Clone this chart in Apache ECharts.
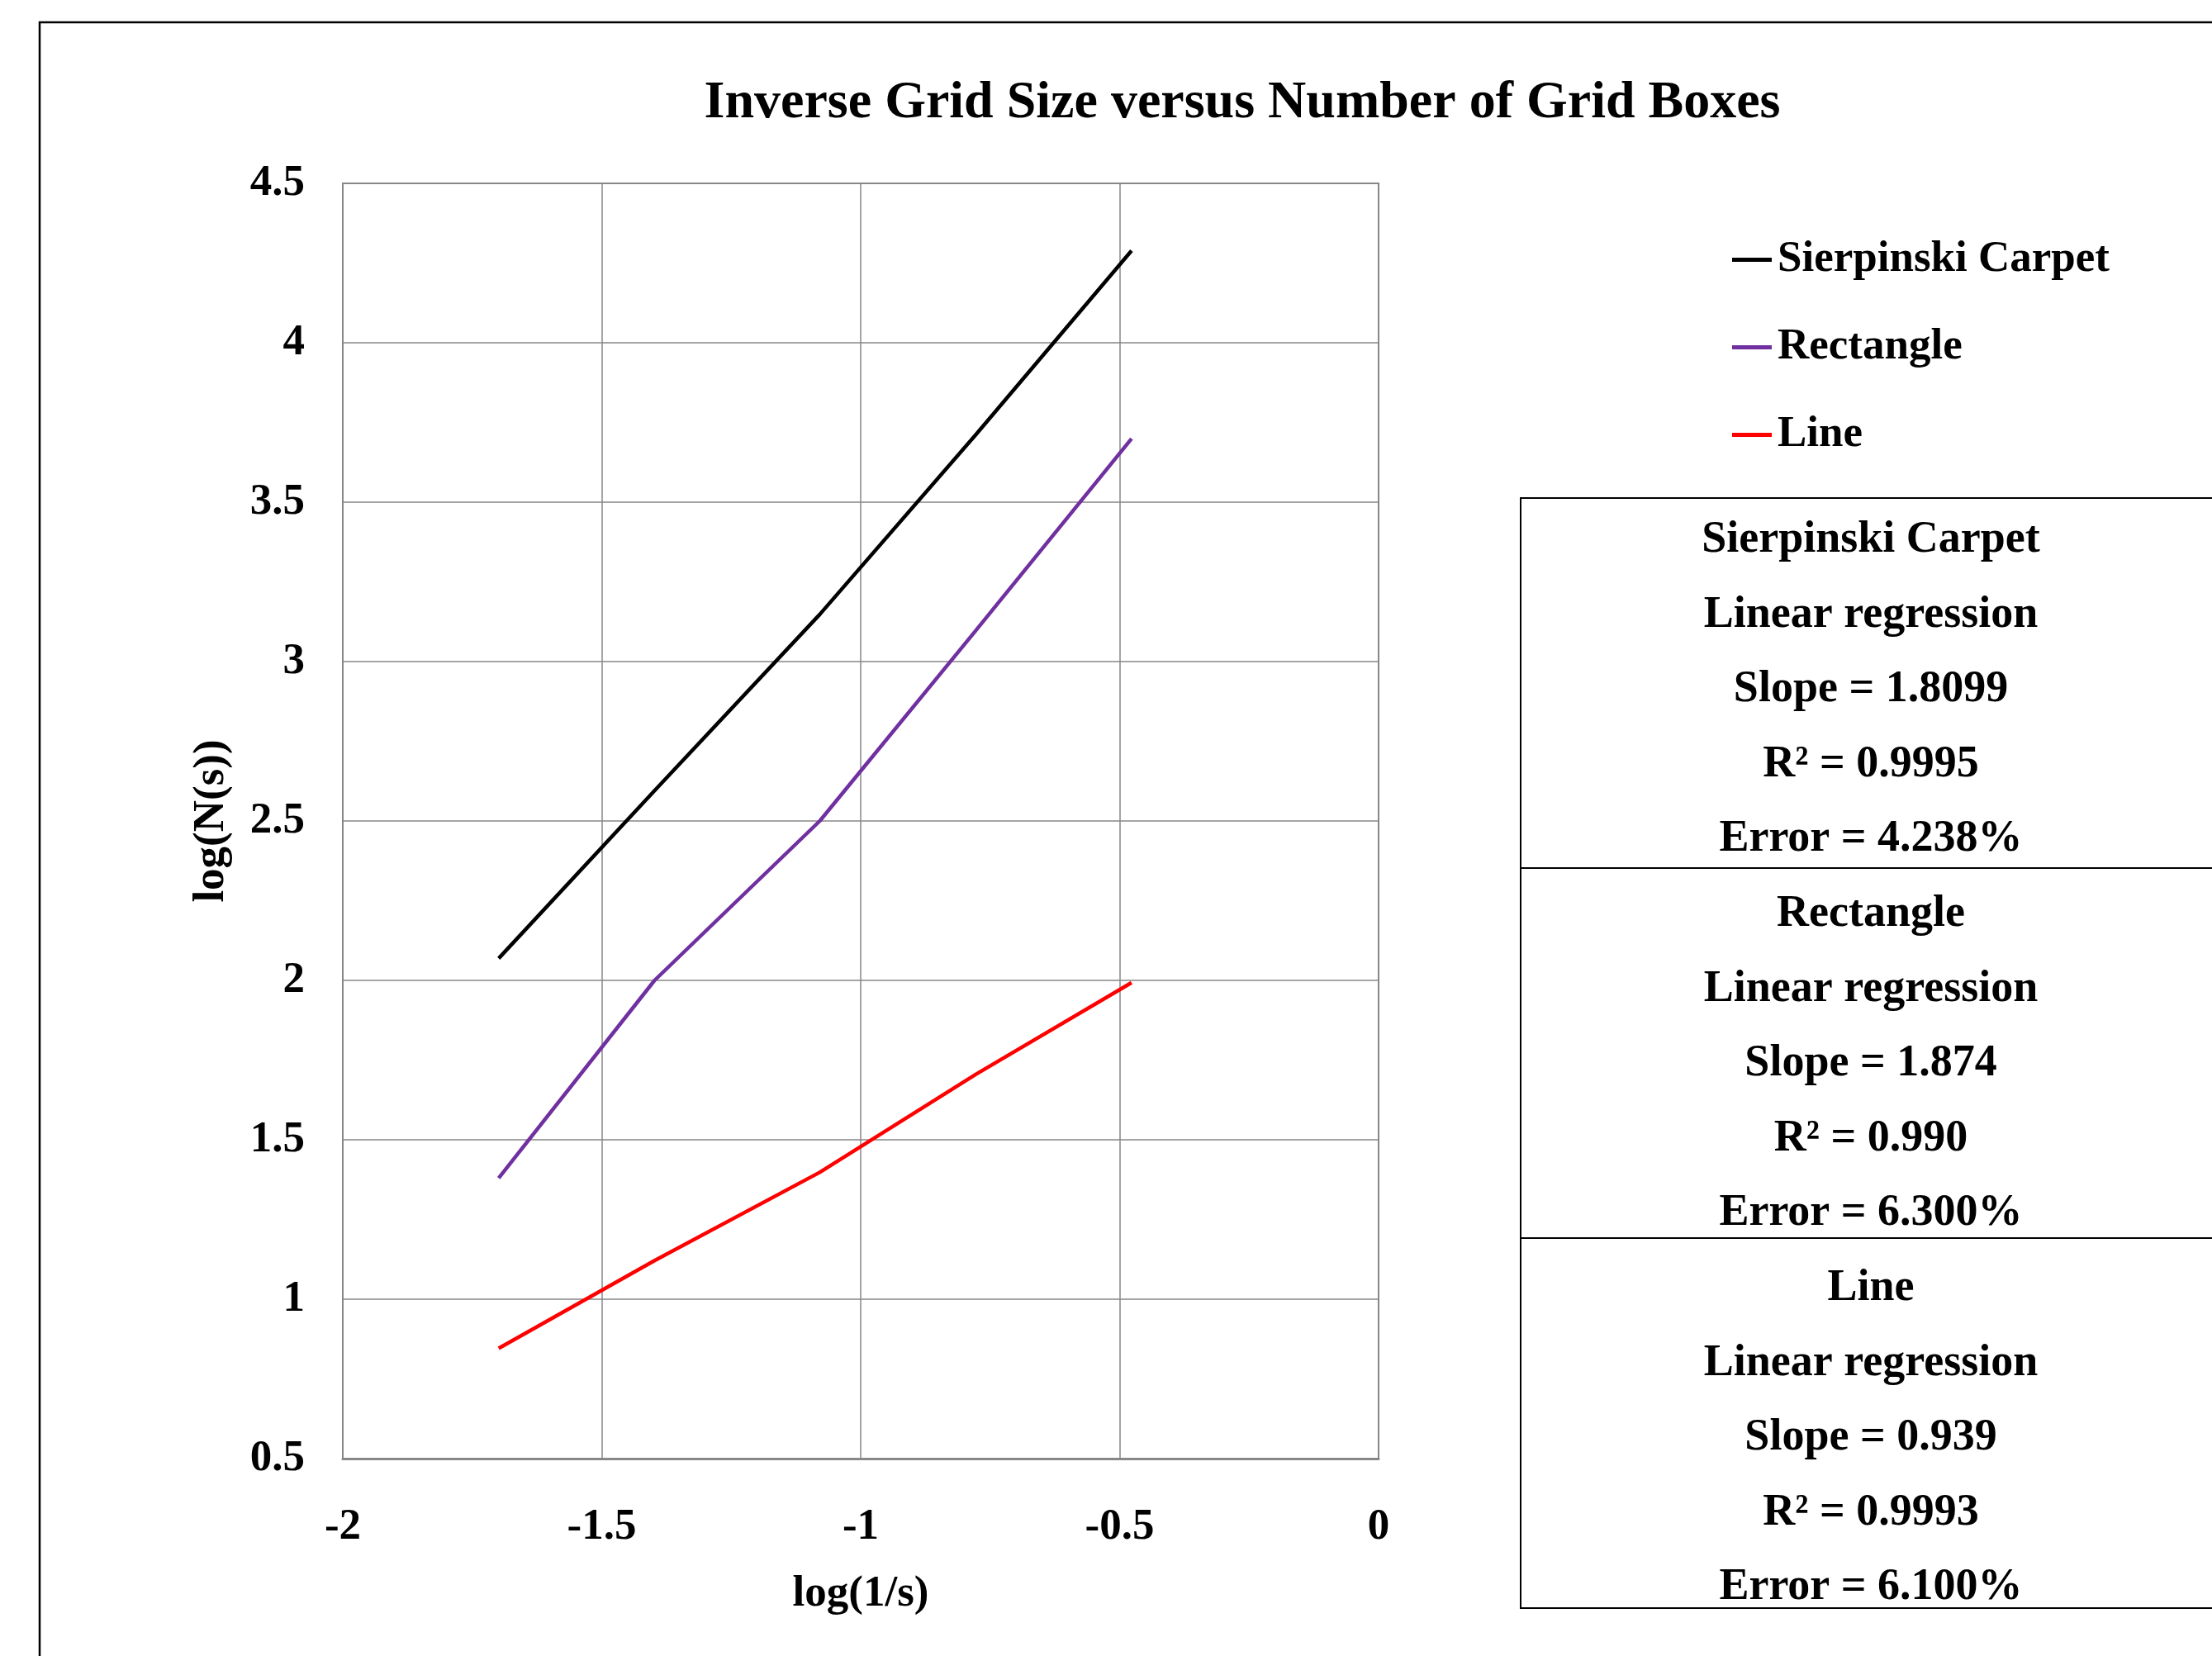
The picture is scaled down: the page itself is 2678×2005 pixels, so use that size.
<!DOCTYPE html>
<html>
<head>
<meta charset="utf-8">
<script src="https://cdn.jsdelivr.net/npm/echarts@6/dist/echarts.min.js"></script>
<style>
html,body{margin:0;padding:0;background:#fff;}
#chart{width:2678px;height:2005px;}
</style>
</head>
<body>
<div id="chart"></div>
<script>
// ---- data ----
const titleText = 'Inverse Grid Size versus Number of Grid Boxes';
const xAxisName = 'log(1/s)';
const yAxisName = 'log(N(s))';
const seriesNames = ['Sierpinski Carpet', 'Rectangle', 'Line'];
const xValues = [-1.699, -1.398, -1.079, -0.778, -0.477];
const carpetValues = [2.069, 2.595, 3.148, 3.711, 4.289];
const rectangleValues = [1.380, 2.000, 2.500, 3.097, 3.699];
const lineValues = [0.846, 1.121, 1.398, 1.705, 1.993];
const xTicks = [-2, -1.5, -1, -0.5, 0];
const yTicks = [0.5, 1, 1.5, 2, 2.5, 3, 3.5, 4, 4.5];
const tableBlocks = [
  ['Sierpinski Carpet', 'Linear regression', 'Slope = 1.8099', 'R\u00B2 = 0.9995', 'Error = 4.238%'],
  ['Rectangle', 'Linear regression', 'Slope = 1.874', 'R\u00B2 = 0.990', 'Error = 6.300%'],
  ['Line', 'Linear regression', 'Slope = 0.939', 'R\u00B2 = 0.9993', 'Error = 6.100%']
];

// ---- styles / layout ----
const FONT = "'Liberation Serif', 'Times New Roman', serif";
const colors = ['#000000', '#7030A0', '#FF0000'];
const gridColor = '#878787';

function pairs(xs, ys) { return xs.map((x, i) => [x, ys[i]]); }

const chart = echarts.init(document.getElementById('chart'));

// table graphics
const tableLeft = 1841, tableTop = 603, blockH = 448, rowStart = 654, rowStep = 90.6, tableCenterX = 2265;
const graphics = [];
graphics.push({
  type: 'rect', silent: true,
  shape: { x: 48, y: 27, width: 2700, height: 2100 },
  style: { fill: 'none', stroke: '#000', lineWidth: 2.5 }
});
graphics.push({
  type: 'rect', silent: true,
  shape: { x: tableLeft, y: tableTop, width: 1000, height: blockH * tableBlocks.length },
  style: { fill: 'none', stroke: '#000', lineWidth: 2 }
});
for (let b = 1; b < tableBlocks.length; b++) {
  graphics.push({
    type: 'line', silent: true,
    shape: { x1: tableLeft, y1: tableTop + blockH * b, x2: 2700, y2: tableTop + blockH * b },
    style: { stroke: '#000', lineWidth: 2 }
  });
}
let rowIdx = 0;
tableBlocks.forEach(block => {
  block.forEach(line => {
    graphics.push({
      type: 'text', silent: true,
      x: tableCenterX, y: rowStart + rowStep * rowIdx,
      style: {
        text: line, fill: '#000', font: 'bold 54px ' + FONT,
        textAlign: 'center', textVerticalAlign: 'middle'
      }
    });
    rowIdx++;
  });
});
graphics.push({
  type: 'text', silent: true,
  x: 1504, y: 125,
  style: {
    text: titleText, fill: '#000', font: 'bold 64px ' + FONT,
    textAlign: 'center', textVerticalAlign: 'middle'
  }
});

const option = {
  backgroundColor: '#fff',
  animation: false,
  grid: {
    left: 415, top: 222, width: 1254, height: 1544,
    show: true, borderColor: gridColor, borderWidth: 2
  },
  legend: {
    orient: 'vertical',
    left: 2097, top: 288,
    padding: 0,
    icon: 'rect',
    itemWidth: 48, itemHeight: 5,
    itemGap: 53,
    data: seriesNames,
    textStyle: { fontFamily: FONT, fontWeight: 'bold', fontSize: 53, color: '#000', padding: [0, 0, 0, 2] }
  },
  xAxis: {
    type: 'value',
    min: xTicks[0], max: xTicks[xTicks.length - 1], interval: 0.5,
    name: xAxisName, nameLocation: 'middle', nameGap: 138,
    nameTextStyle: { fontFamily: FONT, fontWeight: 'bold', fontSize: 53, color: '#000' },
    axisLine: { show: true, lineStyle: { color: gridColor, width: 3 } },
    axisTick: { show: false },
    axisLabel: { margin: 57, fontFamily: FONT, fontWeight: 'bold', fontSize: 53, color: '#000',
      formatter: v => String(v) },
    splitLine: { show: true, lineStyle: { color: gridColor, width: 1.5 } }
  },
  yAxis: {
    type: 'value',
    min: yTicks[0], max: yTicks[yTicks.length - 1], interval: 0.5,
    name: yAxisName, nameLocation: 'middle', nameGap: 132,
    nameTextStyle: { fontFamily: FONT, fontWeight: 'bold', fontSize: 53, color: '#000' },
    axisLine: { show: true, lineStyle: { color: gridColor, width: 2 } },
    axisTick: { show: false },
    axisLabel: { margin: 46, fontFamily: FONT, fontWeight: 'bold', fontSize: 53, color: '#000',
      padding: [10, 0, 0, 0],
      formatter: v => String(v) },
    splitLine: { show: true, lineStyle: { color: gridColor, width: 1.5 } }
  },
  series: [
    { name: seriesNames[0], type: 'line', data: pairs(xValues, carpetValues), symbol: 'none',
      lineStyle: { color: colors[0], width: 4.5 }, itemStyle: { color: colors[0] } },
    { name: seriesNames[1], type: 'line', data: pairs(xValues, rectangleValues), symbol: 'none',
      lineStyle: { color: colors[1], width: 4.5 }, itemStyle: { color: colors[1] } },
    { name: seriesNames[2], type: 'line', data: pairs(xValues, lineValues), symbol: 'none',
      lineStyle: { color: colors[2], width: 4.5 }, itemStyle: { color: colors[2] } }
  ],
  graphic: graphics
};
chart.setOption(option);
</script>
</body>
</html>
